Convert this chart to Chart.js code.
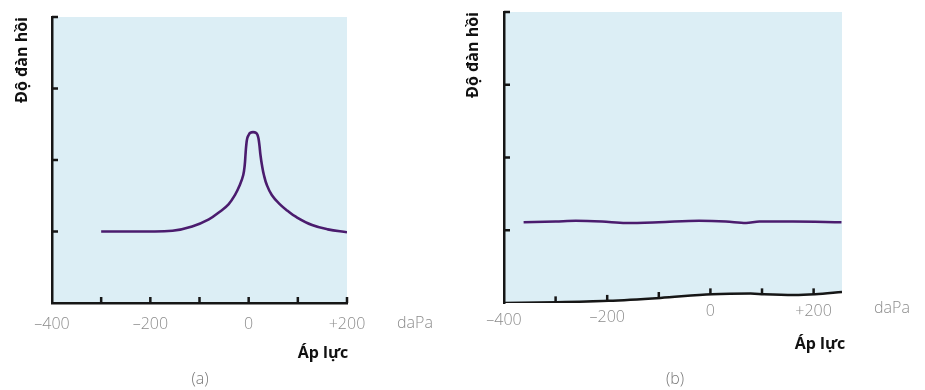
<!DOCTYPE html>
<html lang="vi">
<head>
<meta charset="utf-8">
<title>Nhĩ lượng đồ (a) và (b)</title>
<script src="https://cdn.jsdelivr.net/npm/chart.js@4.4.1/dist/chart.umd.min.js"></script>
<style>
  html, body { margin: 0; padding: 0; background: #fff; }
  #khung { position: relative; width: 925px; height: 390px; overflow: hidden; font-family: 'Open Sans', sans-serif; }
  canvas { position: absolute; top: 0; }
  #bieuDoA { left: 0; }
  #bieuDoB { left: 460px; }
  .nhan { position: absolute; transform: translate(-50%, -50%); white-space: nowrap; line-height: 1; }
  .donVi { font-size: 16px; font-weight: 300; color: #8c8c8c; }
  .truc { font-size: 16px; font-weight: 700; color: #111; }
  .ten { font-size: 16px; font-weight: 300; color: #777; }
</style>
</head>
<body>
<div id="khung">
  <canvas id="bieuDoA" width="460" height="390"></canvas>
  <canvas id="bieuDoB" width="465" height="390"></canvas>
  <div class="nhan donVi" style="left:415px;top:322px">daPa</div>
  <div class="nhan truc" style="left:323px;top:352px">Áp lực</div>
  <div class="nhan ten" style="left:200px;top:378px">(a)</div>
  <div class="nhan donVi" style="left:892px;top:307px">daPa</div>
  <div class="nhan truc" style="left:820px;top:343px">Áp lực</div>
  <div class="nhan ten" style="left:675px;top:378px">(b)</div>
</div>
<script>
// Hai nhĩ lượng đồ : (a) đỉnh nhọn quanh 0 daPa, (b) đường phẳng.

const TIM     = '#4b1c6e'
const DEN     = '#161616'
const XAM     = '#8c8c8c'
const XANH    = '#dceef5'
const FONT    = "'Open Sans', 'Noto Sans', sans-serif"

// --- (a) : áp lực (daPa) / độ đàn hồi
const apLucA  = [-300, -215, -155, -115, -81, -58, -41, -28, -18, -11, -8, -6.5, -5, -3, 0, 3, 9, 15, 18, 20, 22, 24, 27, 31, 37, 47, 62, 79, 95, 129, 161, 200]
const danHoiA = [1.0, 1.0, 1.01, 1.07, 1.17, 1.28, 1.38, 1.51, 1.65, 1.79, 1.93, 2.07, 2.2, 2.3, 2.35, 2.38, 2.39, 2.38, 2.35, 2.3, 2.2, 2.07, 1.93, 1.79, 1.65, 1.51, 1.39, 1.29, 1.21, 1.09, 1.03, 0.99]

// --- (b) : đường gần phẳng
const apLucB  = [-362, -300, -261, -210, -164, -100, -22, 30, 69, 95, 160, 254]
const danHoiB = [1.11, 1.12, 1.13, 1.12, 1.10, 1.11, 1.13, 1.12, 1.10, 1.12, 1.12, 1.11]

// trục hoành của (b) bị nghiêng trong bản in
const apLucTrucB  = [-400, -298, -198, -97, 3, 78, 104, 162, 203, 255]
const doCaoTrucB  = [0, 0.01, 0.03, 0.07, 0.12, 0.13, 0.12, 0.11, 0.12, 0.15]
const vachApLucB  = [-300, -200, -100, 0, 100, 200]
const vachDoCaoB  = [0.01, 0.03, 0.07, 0.12, 0.12, 0.12]

const nhanTruc = v => {
  if (v % 200 !== 0) return ''
  if (v > 0) return '+' + v
  if (v < 0) return '\u2013' + Math.abs(v)
  return '0'
}

const diem = (xs, ys) => xs.map((x, i) => ({ x, y: ys[i] }))

// nền xanh nhạt của vùng vẽ
const nenXanh = {
  id: 'nenXanh',
  beforeDraw(chart) {
    const { ctx, chartArea: a } = chart
    ctx.save()
    ctx.fillStyle = XANH
    ctx.fillRect(a.left, a.top, a.right - a.left, a.bottom - a.top)
    ctx.restore()
  },
}

// vạch chia hướng vào trong
const vachTrong = {
  id: 'vachTrong',
  afterDraw(chart, args, opts) {
    const { ctx, chartArea: a, scales: { x, y } } = chart
    ctx.save()
    ctx.strokeStyle = DEN
    ctx.lineWidth = 2.5
    ctx.beginPath()
    y.ticks.forEach(t => {
      if (t.value === y.min) return
      const py = y.getPixelForValue(t.value)
      ctx.moveTo(a.left, py); ctx.lineTo(a.left + 6, py)
    })
    if (opts.x) {
      x.ticks.forEach(t => {
        if (t.value === x.min) return
        const px = x.getPixelForValue(t.value)
        ctx.moveTo(px, a.bottom); ctx.lineTo(px, a.bottom - 6)
      })
    }
    ctx.stroke()
    ctx.restore()
  },
}

// (b) : nhãn trục hoành bám theo đường trục nghiêng (dataset 0)
const nhanNghieng = {
  id: 'nhanNghieng',
  afterDatasetsDraw(chart, args, opts) {
    if (!opts.bat) return
    const { ctx, scales: { x } } = chart
    const pts = chart.getDatasetMeta(0).data
    ctx.save()
    ctx.font = `300 16px ${FONT}`
    ctx.fillStyle = XAM
    ctx.textAlign = 'center'
    ctx.textBaseline = 'middle'
    x.ticks.forEach(t => {
      const txt = nhanTruc(t.value)
      if (!txt) return
      const px = x.getPixelForValue(t.value)
      let py = pts[0].y
      for (let i = 1; i < pts.length; i++) {
        if (pts[i].x >= px) {
          const a = pts[i - 1], b = pts[i]
          py = a.y + (b.y - a.y) * (px - a.x) / (b.x - a.x)
          break
        }
      }
      ctx.fillText(txt, px, py + 17)
    })
    ctx.restore()
  },
}

function tuyChon({ xMax, pad, truTrai, dem, vienX, vachX, nhanX, tieuDePad }) {
  return {
    responsive: false,
    animation: false,
    devicePixelRatio: 1,
    layout: { padding: pad },
    plugins: {
      legend: { display: false }, tooltip: { enabled: false },
      vachTrong: { x: vachX }, nhanNghieng: { bat: !nhanX },
    },
    scales: {
      x: {
        type: 'linear', min: -400, max: xMax,
        afterFit: s => { s.height = 87 },
        grid: { display: false },
        border: { display: vienX, color: DEN, width: 2.5 },
        ticks: {
          display: nhanX,
          stepSize: 100, autoSkip: false, includeBounds: false, maxRotation: 0,
          padding: dem, color: XAM, font: { family: FONT, size: 16, weight: '300' },
          callback: nhanTruc,
        },
      },
      y: {
        min: 0, max: 4,
        afterFit: s => { s.width = truTrai },
        grid: { display: false },
        border: { display: true, color: DEN, width: 2.5 },
        ticks: { stepSize: 1, display: false },
        title: {
          display: true, text: 'Độ đàn hồi', align: 'end', color: '#111',
          font: { family: FONT, size: 16, weight: 'bold' },
          padding: { top: tieuDePad, bottom: 0 },
        },
      },
    },
  }
}

new Chart(document.getElementById('bieuDoA'), {
  type: 'line',
  data: {
    datasets: [{
      data: diem(apLucA, danHoiA),
      borderColor: TIM, borderWidth: 2.6, pointRadius: 0,
      tension: 0.4,
    }],
  },
  options: tuyChon({ xMax: 200, pad: { left: 0, top: 17, right: 113, bottom: 0 }, truTrai: 52, dem: 4, vienX: true, vachX: true, nhanX: true, tieuDePad: 13 }),
  plugins: [nenXanh, vachTrong, nhanNghieng],
})

new Chart(document.getElementById('bieuDoB'), {
  type: 'line',
  data: {
    datasets: [
      {
        data: diem(apLucTrucB, doCaoTrucB),
        borderColor: DEN, borderWidth: 2.5, pointRadius: 0,
        fill: 'start', backgroundColor: '#ffffff',
        cubicInterpolationMode: 'monotone',
      },
      {
        data: diem(vachApLucB, vachDoCaoB.map(v => v + 0.04)),
        showLine: false,
        pointStyle: 'line', pointRotation: 90, pointRadius: 3,
        pointBorderWidth: 2.5, pointBorderColor: DEN,
      },
      {
        data: diem(apLucB, danHoiB),
        borderColor: TIM, borderWidth: 2.5, pointRadius: 0,
        cubicInterpolationMode: 'monotone',
      },
    ],
  },
  options: tuyChon({ xMax: 255, pad: { left: 0, top: 12, right: 83, bottom: 0 }, truTrai: 44, dem: 5, vienX: false, vachX: false, nhanX: false, tieuDePad: 4 }),
  plugins: [nenXanh, vachTrong, nhanNghieng],
})
</script>
</body>
</html>
